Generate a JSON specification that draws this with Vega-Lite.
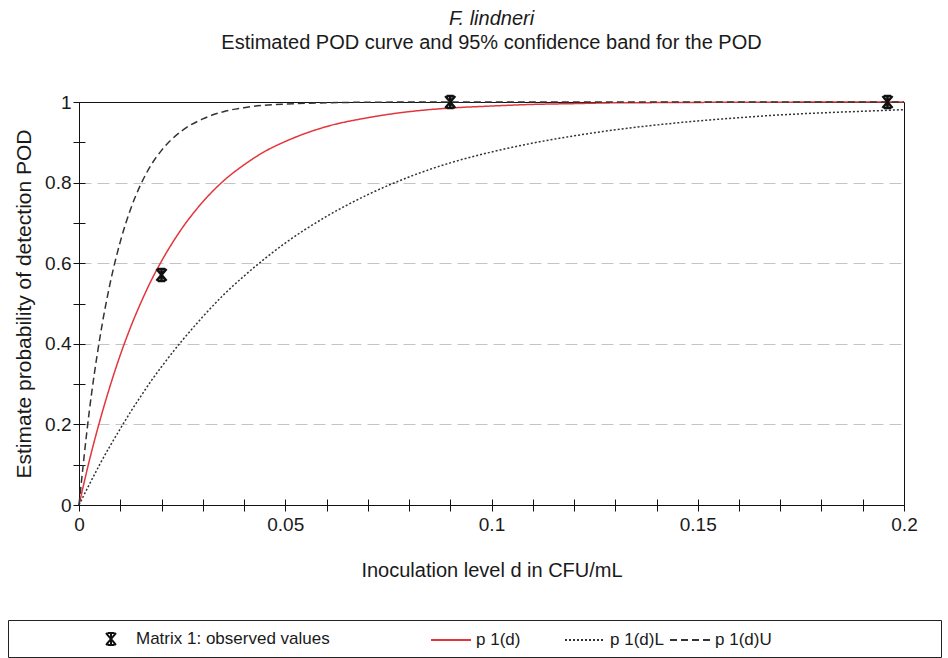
{
  "$schema": "https://vega.github.io/schema/vega-lite/v6.json",
  "width": 825,
  "height": 403,
  "autosize": {"type": "none"},
  "padding": {"left": 79, "top": 102, "right": 44, "bottom": 153},
  "background": "white",
  "title": {
    "text": "F. lindneri",
    "subtitle": "Estimated POD curve and 95% confidence band for the POD",
    "fontStyle": "italic",
    "fontWeight": "normal",
    "fontSize": 20,
    "subtitleFontSize": 20,
    "subtitleColor": "#1a1a1a",
    "color": "#1a1a1a",
    "anchor": "middle",
    "frame": "group",
    "offset": 38,
    "subtitlePadding": 4
  },
  "datasets": {
    "curves": [
      {"d": 0, "p": 0, "series": "p 1(d)"},
      {"d": 0.0025, "p": 0.110, "series": "p 1(d)"},
      {"d": 0.005, "p": 0.207, "series": "p 1(d)"},
      {"d": 0.0075, "p": 0.294, "series": "p 1(d)"},
      {"d": 0.01, "p": 0.372, "series": "p 1(d)"},
      {"d": 0.0125, "p": 0.441, "series": "p 1(d)"},
      {"d": 0.015, "p": 0.502, "series": "p 1(d)"},
      {"d": 0.0175, "p": 0.557, "series": "p 1(d)"},
      {"d": 0.02, "p": 0.605, "series": "p 1(d)"},
      {"d": 0.025, "p": 0.687, "series": "p 1(d)"},
      {"d": 0.03, "p": 0.752, "series": "p 1(d)"},
      {"d": 0.035, "p": 0.804, "series": "p 1(d)"},
      {"d": 0.04, "p": 0.844, "series": "p 1(d)"},
      {"d": 0.045, "p": 0.877, "series": "p 1(d)"},
      {"d": 0.05, "p": 0.902, "series": "p 1(d)"},
      {"d": 0.06, "p": 0.939, "series": "p 1(d)"},
      {"d": 0.07, "p": 0.961, "series": "p 1(d)"},
      {"d": 0.08, "p": 0.976, "series": "p 1(d)"},
      {"d": 0.09, "p": 0.985, "series": "p 1(d)"},
      {"d": 0.1, "p": 0.990, "series": "p 1(d)"},
      {"d": 0.11, "p": 0.994, "series": "p 1(d)"},
      {"d": 0.12, "p": 0.996, "series": "p 1(d)"},
      {"d": 0.13, "p": 0.998, "series": "p 1(d)"},
      {"d": 0.14, "p": 0.9985, "series": "p 1(d)"},
      {"d": 0.15, "p": 0.999, "series": "p 1(d)"},
      {"d": 0.16, "p": 0.9994, "series": "p 1(d)"},
      {"d": 0.17, "p": 0.9996, "series": "p 1(d)"},
      {"d": 0.18, "p": 0.9998, "series": "p 1(d)"},
      {"d": 0.19, "p": 0.9999, "series": "p 1(d)"},
      {"d": 0.2, "p": 1.0, "series": "p 1(d)"},
      {"d": 0, "p": 0, "series": "p 1(d)L"},
      {"d": 0.0025, "p": 0.051, "series": "p 1(d)L"},
      {"d": 0.005, "p": 0.100, "series": "p 1(d)L"},
      {"d": 0.0075, "p": 0.146, "series": "p 1(d)L"},
      {"d": 0.01, "p": 0.189, "series": "p 1(d)L"},
      {"d": 0.0125, "p": 0.231, "series": "p 1(d)L"},
      {"d": 0.015, "p": 0.270, "series": "p 1(d)L"},
      {"d": 0.0175, "p": 0.308, "series": "p 1(d)L"},
      {"d": 0.02, "p": 0.343, "series": "p 1(d)L"},
      {"d": 0.025, "p": 0.408, "series": "p 1(d)L"},
      {"d": 0.03, "p": 0.467, "series": "p 1(d)L"},
      {"d": 0.035, "p": 0.521, "series": "p 1(d)L"},
      {"d": 0.04, "p": 0.568, "series": "p 1(d)L"},
      {"d": 0.045, "p": 0.611, "series": "p 1(d)L"},
      {"d": 0.05, "p": 0.650, "series": "p 1(d)L"},
      {"d": 0.06, "p": 0.716, "series": "p 1(d)L"},
      {"d": 0.07, "p": 0.770, "series": "p 1(d)L"},
      {"d": 0.08, "p": 0.814, "series": "p 1(d)L"},
      {"d": 0.09, "p": 0.849, "series": "p 1(d)L"},
      {"d": 0.1, "p": 0.876, "series": "p 1(d)L"},
      {"d": 0.11, "p": 0.898, "series": "p 1(d)L"},
      {"d": 0.12, "p": 0.916, "series": "p 1(d)L"},
      {"d": 0.13, "p": 0.931, "series": "p 1(d)L"},
      {"d": 0.14, "p": 0.943, "series": "p 1(d)L"},
      {"d": 0.15, "p": 0.953, "series": "p 1(d)L"},
      {"d": 0.16, "p": 0.961, "series": "p 1(d)L"},
      {"d": 0.17, "p": 0.968, "series": "p 1(d)L"},
      {"d": 0.18, "p": 0.973, "series": "p 1(d)L"},
      {"d": 0.19, "p": 0.977, "series": "p 1(d)L"},
      {"d": 0.2, "p": 0.981, "series": "p 1(d)L"},
      {"d": 0, "p": 0, "series": "p 1(d)U"},
      {"d": 0.0025, "p": 0.233, "series": "p 1(d)U"},
      {"d": 0.005, "p": 0.411, "series": "p 1(d)U"},
      {"d": 0.0075, "p": 0.548, "series": "p 1(d)U"},
      {"d": 0.01, "p": 0.653, "series": "p 1(d)U"},
      {"d": 0.0125, "p": 0.734, "series": "p 1(d)U"},
      {"d": 0.015, "p": 0.796, "series": "p 1(d)U"},
      {"d": 0.0175, "p": 0.844, "series": "p 1(d)U"},
      {"d": 0.02, "p": 0.880, "series": "p 1(d)U"},
      {"d": 0.025, "p": 0.929, "series": "p 1(d)U"},
      {"d": 0.03, "p": 0.958, "series": "p 1(d)U"},
      {"d": 0.035, "p": 0.976, "series": "p 1(d)U"},
      {"d": 0.04, "p": 0.986, "series": "p 1(d)U"},
      {"d": 0.045, "p": 0.992, "series": "p 1(d)U"},
      {"d": 0.05, "p": 0.995, "series": "p 1(d)U"},
      {"d": 0.06, "p": 0.998, "series": "p 1(d)U"},
      {"d": 0.07, "p": 0.9994, "series": "p 1(d)U"},
      {"d": 0.08, "p": 0.9998, "series": "p 1(d)U"},
      {"d": 0.09, "p": 1.0, "series": "p 1(d)U"},
      {"d": 0.1, "p": 1.0, "series": "p 1(d)U"},
      {"d": 0.12, "p": 1.0, "series": "p 1(d)U"},
      {"d": 0.14, "p": 1.0, "series": "p 1(d)U"},
      {"d": 0.16, "p": 1.0, "series": "p 1(d)U"},
      {"d": 0.18, "p": 1.0, "series": "p 1(d)U"},
      {"d": 0.2, "p": 1.0, "series": "p 1(d)U"}
    ],
    "obs": [
      {"d": 0.02, "p": 0.571, "series": "Matrix 1: observed values"},
      {"d": 0.09, "p": 1.0, "series": "Matrix 1: observed values"},
      {"d": 0.196, "p": 1.0, "series": "Matrix 1: observed values"}
    ]
  },
  "layer": [
    {
      "data": {"name": "curves"},
      "mark": {"type": "line", "strokeWidth": 1.5, "interpolate": "monotone"},
      "encoding": {
        "x": {
          "field": "d", "type": "quantitative",
          "scale": {"domain": [0, 0.2], "nice": false, "zero": false},
          "axis": {
            "orient": "bottom",
            "values": [0, 0.01, 0.02, 0.03, 0.04, 0.05, 0.06, 0.07, 0.08, 0.09, 0.1, 0.11, 0.12, 0.13, 0.14, 0.15, 0.16, 0.17, 0.18, 0.19, 0.2],
            "labelExpr": "round(datum.value*100) % 5 == 0 ? format(datum.value, '~g') : ''",
            "labelOverlap": false, "labelFlush": false, "labelBound": false,
            "grid": false, "tickSize": 6, "labelFontSize": 19, "labelPadding": 4,
            "title": "Inoculation level d in CFU/mL", "titleFontSize": 20, "titleFontWeight": "normal", "titlePadding": 26
          }
        },
        "y": {
          "field": "p", "type": "quantitative",
          "scale": {"domain": [0, 1], "nice": false},
          "axis": {
            "orient": "left",
            "values": [0, 0.1, 0.2, 0.3, 0.4, 0.5, 0.6, 0.7, 0.8, 0.9, 1],
            "labelExpr": "round(datum.value*10) % 2 == 0 ? format(datum.value, '~g') : ''",
            "labelOverlap": false, "labelFlush": false, "labelBound": false,
            "grid": true, "gridDash": [12, 6], "gridColor": "#c4c4c4", "gridWidth": 1,
            "gridOpacity": {"condition": {"test": "datum.value > 0.05 && datum.value < 0.95 && round(datum.value*10) % 2 == 0", "value": 1}, "value": 0},
            "tickSize": 6, "labelFontSize": 19, "labelPadding": 2,
            "title": "Estimate probability of detection POD", "titleFontSize": 21, "titleFontWeight": "normal", "titlePadding": 10
          }
        },
        "color": {
          "field": "series", "type": "nominal",
          "scale": {"domain": ["Matrix 1: observed values", "p 1(d)", "p 1(d)L", "p 1(d)U"], "range": ["#111111", "#e3363c", "#333333", "#333333"]},
          "legend": {
            "title": " ", "orient": "none", "legendX": -71, "legendY": 518, "direction": "horizontal", "columns": 4,
            "titleOrient": "left", "titlePadding": 84, "titleFontSize": 16, "padding": 8,
            "strokeColor": "#222222", "fillColor": "white",
            "labelFontSize": 17, "labelColor": "#1a1a1a", "labelLimit": 600, "symbolSize": 400, "symbolStrokeWidth": 2,
            "labelOffset": 14, "columnPadding": 2,
            "labelExpr": "datum.label == 'Matrix 1: observed values' ? datum.label + '                    \u200b' : datum.label == 'p 1(d)' ? datum.label + '        \u200b' : datum.label == 'p 1(d)U' ? datum.label + '                                  \u200b' : datum.label"
          }
        },
        "strokeDash": {
          "field": "series", "type": "nominal",
          "scale": {"domain": ["Matrix 1: observed values", "p 1(d)", "p 1(d)L", "p 1(d)U"], "range": [[1, 0], [1, 0], [2, 2], [7, 4]]},
          "legend": {
            "title": " ", "orient": "none", "legendX": -71, "legendY": 518, "direction": "horizontal", "columns": 4,
            "titleOrient": "left", "titlePadding": 84, "titleFontSize": 16, "padding": 8,
            "strokeColor": "#222222", "fillColor": "white",
            "labelFontSize": 17, "labelColor": "#1a1a1a", "labelLimit": 600, "symbolSize": 400, "symbolStrokeWidth": 2,
            "labelOffset": 14, "columnPadding": 2,
            "labelExpr": "datum.label == 'Matrix 1: observed values' ? datum.label + '                    \u200b' : datum.label == 'p 1(d)' ? datum.label + '        \u200b' : datum.label == 'p 1(d)U' ? datum.label + '                                  \u200b' : datum.label"
          }
        }
      }
    },
    {
      "data": {"name": "obs"},
      "mark": {"type": "point", "filled": false, "size": 400, "strokeWidth": 2.5, "opacity": 1},
      "encoding": {
        "x": {
          "field": "d", "type": "quantitative",
          "scale": {"domain": [0, 0.2], "nice": false, "zero": false},
          "axis": {
            "orient": "bottom",
            "values": [0, 0.01, 0.02, 0.03, 0.04, 0.05, 0.06, 0.07, 0.08, 0.09, 0.1, 0.11, 0.12, 0.13, 0.14, 0.15, 0.16, 0.17, 0.18, 0.19, 0.2],
            "tickSize": -6, "labels": false, "domain": false, "title": null, "grid": false
          }
        },
        "y": {
          "field": "p", "type": "quantitative",
          "scale": {"domain": [0, 1], "nice": false},
          "axis": {
            "orient": "left",
            "values": [0, 0.1, 0.2, 0.3, 0.4, 0.5, 0.6, 0.7, 0.8, 0.9, 1],
            "tickSize": -6, "labels": false, "domain": false, "title": null, "grid": false
          }
        },
        "color": {
          "field": "series", "type": "nominal",
          "scale": {"domain": ["Matrix 1: observed values", "p 1(d)", "p 1(d)L", "p 1(d)U"], "range": ["#111111", "#e3363c", "#333333", "#333333"]},
          "legend": {
            "title": " ", "orient": "none", "legendX": -71, "legendY": 518, "direction": "horizontal", "columns": 4,
            "titleOrient": "left", "titlePadding": 84, "titleFontSize": 16, "padding": 8,
            "strokeColor": "#222222", "fillColor": "white",
            "labelFontSize": 17, "labelColor": "#1a1a1a", "labelLimit": 600, "symbolSize": 400, "symbolStrokeWidth": 2,
            "labelOffset": 14, "columnPadding": 2,
            "labelExpr": "datum.label == 'Matrix 1: observed values' ? datum.label + '                    \u200b' : datum.label == 'p 1(d)' ? datum.label + '        \u200b' : datum.label == 'p 1(d)U' ? datum.label + '                                  \u200b' : datum.label"
          }
        },
        "shape": {
          "field": "series", "type": "nominal",
          "scale": {"domain": ["Matrix 1: observed values", "p 1(d)", "p 1(d)L", "p 1(d)U"], "range": ["M-0.35,-0.6L0.35,-0.6M-0.35,0.6L0.35,0.6M-0.5,-0.6L0.5,0.6M0.5,-0.6L-0.5,0.6M0,-0.6L0,0.6", "M-2,0L2,0", "M-2,0L2,0", "M-2,0L2,0"]},
          "legend": {
            "title": " ", "orient": "none", "legendX": -71, "legendY": 518, "direction": "horizontal", "columns": 4,
            "titleOrient": "left", "titlePadding": 84, "titleFontSize": 16, "padding": 8,
            "strokeColor": "#222222", "fillColor": "white",
            "labelFontSize": 17, "labelColor": "#1a1a1a", "labelLimit": 600, "symbolSize": 400, "symbolStrokeWidth": 2,
            "labelOffset": 14, "columnPadding": 2,
            "labelExpr": "datum.label == 'Matrix 1: observed values' ? datum.label + '                    \u200b' : datum.label == 'p 1(d)' ? datum.label + '        \u200b' : datum.label == 'p 1(d)U' ? datum.label + '                                  \u200b' : datum.label"
          }
        }
      }
    }
  ],
  "resolve": {"axis": {"x": "independent", "y": "independent"}},
  "config": {
    "font": "Liberation Sans",
    "view": {"stroke": "#111111", "strokeWidth": 1},
    "axis": {"domainColor": "#111111", "tickColor": "#111111", "labelColor": "#1a1a1a", "titleColor": "#1a1a1a", "domainWidth": 1, "tickWidth": 1}
  }
}
